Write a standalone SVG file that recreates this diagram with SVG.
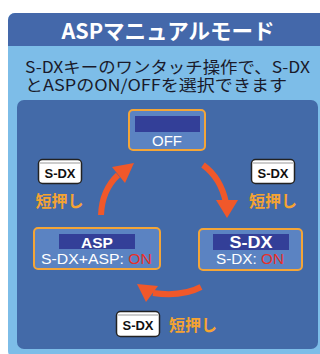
<svg xmlns="http://www.w3.org/2000/svg" width="320" height="354" viewBox="0 0 320 354">
<style>
.jp{font-family:"Noto Sans CJK JP","Noto Sans",sans-serif}
.lat{font-family:"Liberation Sans","Noto Sans",Arial,sans-serif}
.box{fill:#5b83c2;stroke:#f4a537;stroke-width:2}
.bar{fill:#333f98}
.w{fill:#ffffff}
.on{fill:#e8302a}
.key{fill:#ffffff;stroke:#222;stroke-width:1.5}
.keyt{font-family:"Liberation Sans",Arial,sans-serif;font-weight:bold;font-size:13px;fill:#111}
.push{font-family:"Noto Sans CJK JP",sans-serif;font-weight:bold;font-size:16px;fill:#f5a332}
.arr{fill:none;stroke:#f0582a;stroke-width:6}
.head{fill:#f0582a}
</style>
<rect x="0" y="0" width="320" height="354" fill="#ffffff"/>
<g id="panel">
<rect x="8" y="13" width="330" height="345" rx="7" fill="#7dbde8"/>
<path d="M8,46 V20 a7,7 0 0 1 7,-7 H338 V46 Z" fill="#4468aa"/>
<text x="168" y="38.5" text-anchor="middle" class="jp" font-weight="bold" font-size="21.5" fill="#ffffff">ASPマニュアルモード</text>
<text x="25" y="73" class="jp" font-size="16" fill="#1a1a2a" textLength="285" lengthAdjust="spacingAndGlyphs">S-DXキーのワンタッチ操作で、S-DX</text>
<text x="25" y="91" class="jp" font-size="16" fill="#1a1a2a" textLength="262" lengthAdjust="spacingAndGlyphs">とASPのON/OFFを選択できます</text>
<rect x="17" y="100" width="301" height="249" rx="7" fill="#436aa8"/>
</g>
<g id="node-off">
<rect class="box" x="129" y="110" width="76" height="40" rx="4"/>
<rect class="bar" x="135" y="116" width="65" height="16"/>
<text x="167" y="146" text-anchor="middle" class="lat w" font-size="15">OFF</text>
</g>
<g id="node-asp">
<rect class="box" x="34" y="228" width="126" height="41" rx="4"/>
<rect class="bar" x="59" y="234" width="76" height="15"/>
<text x="97" y="247.5" text-anchor="middle" class="lat w" font-weight="bold" font-size="15.5">ASP</text>
<text x="41" y="264" class="lat" font-size="14.5" textLength="111" lengthAdjust="spacingAndGlyphs"><tspan class="w">S-DX+ASP: </tspan><tspan class="on">ON</tspan></text>
</g>
<g id="node-sdx">
<rect class="box" x="199" y="229" width="103" height="41" rx="4"/>
<rect class="bar" x="213" y="234" width="76" height="16"/>
<text x="251" y="247.5" text-anchor="middle" class="lat w" font-weight="bold" font-size="16" textLength="43" lengthAdjust="spacingAndGlyphs">S-DX</text>
<text x="216" y="264" class="lat" font-size="14.5" textLength="68" lengthAdjust="spacingAndGlyphs"><tspan class="w">S-DX: </tspan><tspan class="on">ON</tspan></text>
</g>
<g id="connectors">
<path class="arr" d="M101,215 Q102,190 118,175"/>
<polygon class="head" points="134,163 112,167 125,183"/>
<path class="arr" d="M203,165 Q221,178 226,203"/>
<polygon class="head" points="227,218 216,200 238,200"/>
<path class="arr" d="M201,287 Q182,297 153,293"/>
<polygon class="head" points="137,284 158,286 146,302"/>
</g>
<g id="label-left">
<rect class="key" x="38.5" y="159.5" width="43" height="24" rx="4"/>
<line x1="40" y1="163" x2="80" y2="163" stroke="#999" stroke-width="1"/>
<text x="60" y="177.5" text-anchor="middle" class="keyt">S-DX</text>
<text x="59.5" y="207" text-anchor="middle" class="push">短押し</text>
</g>
<g id="label-right">
<rect class="key" x="251.5" y="159.5" width="43" height="24" rx="4"/>
<line x1="253" y1="163" x2="293" y2="163" stroke="#999" stroke-width="1"/>
<text x="273" y="177.5" text-anchor="middle" class="keyt">S-DX</text>
<text x="273" y="207" text-anchor="middle" class="push">短押し</text>
</g>
<g id="label-bottom">
<rect class="key" x="116.5" y="311.5" width="43" height="25" rx="4"/>
<line x1="118" y1="315" x2="158" y2="315" stroke="#999" stroke-width="1"/>
<text x="138" y="330" text-anchor="middle" class="keyt">S-DX</text>
<text x="193" y="331" text-anchor="middle" class="push">短押し</text>
</g>
</svg>
